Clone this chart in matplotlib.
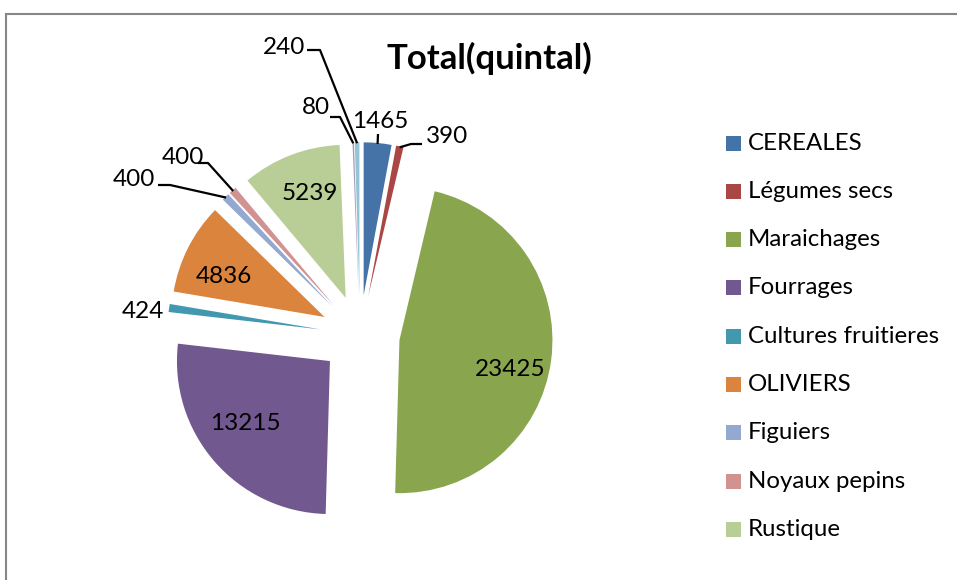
import numpy as np
import matplotlib
matplotlib.use('Agg')
import matplotlib.pyplot as plt
from matplotlib.patches import Rectangle

plt.rcParams['font.family'] = ['Lato', 'DejaVu Sans']

#### Data
categories = ['CEREALES', 'Légumes secs', 'Maraichages', 'Fourrages',
              'Cultures fruitieres', 'OLIVIERS', 'Figuiers', 'Noyaux pepins',
              'Rustique', 'Autre 1', 'Autre 2']
values = [1465, 390, 23425, 13215, 424, 4836, 400, 400, 5239, 80, 240]
colors = ['#4572A7', '#AA4643', '#89A54E', '#71588F', '#4198AF', '#DB843D',
          '#93A9CF', '#D19392', '#B9CD96', '#A99BBD', '#92C5D6']
n_legend = 9  # the last two slices are not in the legend

#### Layout (pixels)
W, H = 957, 580
CX, CY, R = 360, 335, 153
EXPLODE = 0.26

# label position for each slice, and elbow of the leader line (None = no line)
label_pos = [(380, 121), (447, 136), (510, 369), (245, 424), (143, 311),
             (224, 276), (134, 179), (183, 157), (310, 193), (316, 107), (284, 47)]
leader = [[(378, 134)], [(422, 144), (411, 144)], None, None, None,
          None, [(158, 185), (170, 185)], [(198, 163), (208, 163)], None,
          [(330, 117), (340, 117)], [(307, 50), (320, 50)]]


def px(x, y):
    return (x - CX) / R, (CY - y) / R


fig = plt.figure(figsize=(W / 100, H / 100), dpi=100)
ax = fig.add_axes([0, 0, 1, 1])
wedges, _ = ax.pie(values, colors=colors, startangle=90, counterclock=False,
                   explode=[EXPLODE] * len(values), radius=1,
                   wedgeprops=dict(linewidth=0))
ax.set_xlim(-CX / R, (W - CX) / R)
ax.set_ylim(-(H - CY) / R, CY / R)
ax.set_aspect('auto')
ax.axis('off')

# data labels
for w, v, pos, elbow in zip(wedges, values, label_pos, leader):
    ax.text(*px(*pos), str(v), ha='center', va='center', fontsize=17.5, color='black')
    if elbow is None:
        continue
    ang = np.deg2rad((w.theta1 + w.theta2) / 2)
    end = ((1 + EXPLODE) * 0.995 * np.cos(ang), (1 + EXPLODE) * 0.995 * np.sin(ang))
    pts = [px(*p) for p in elbow] + [end]
    xs, ys = zip(*pts)
    ax.plot(xs, ys, color='black', lw=1.6, solid_capstyle='butt')

# title
ax.text(*px(489, 58), 'Total(quintal)', ha='center', va='center',
        fontsize=25, fontweight='bold')

# legend
for i, (name, col) in enumerate(zip(categories[:n_legend], colors[:n_legend])):
    y = 143 + i * 48.3
    x0, y0 = px(726, y + 7.5)
    ax.add_patch(Rectangle((x0, y0), 15 / R, 15 / R, facecolor=col, edgecolor='none'))
    ax.text(*px(748, y), name, ha='left', va='center', fontsize=17.3)

# chart frame
fig.add_artist(Rectangle((5.5 / W, -0.05), 1.1, 1 - 13.5 / H + 0.05,
                         transform=fig.transFigure, fill=False,
                         edgecolor='#868686', lw=1.5, clip_on=False))

fig.savefig('out.png', dpi=100)
